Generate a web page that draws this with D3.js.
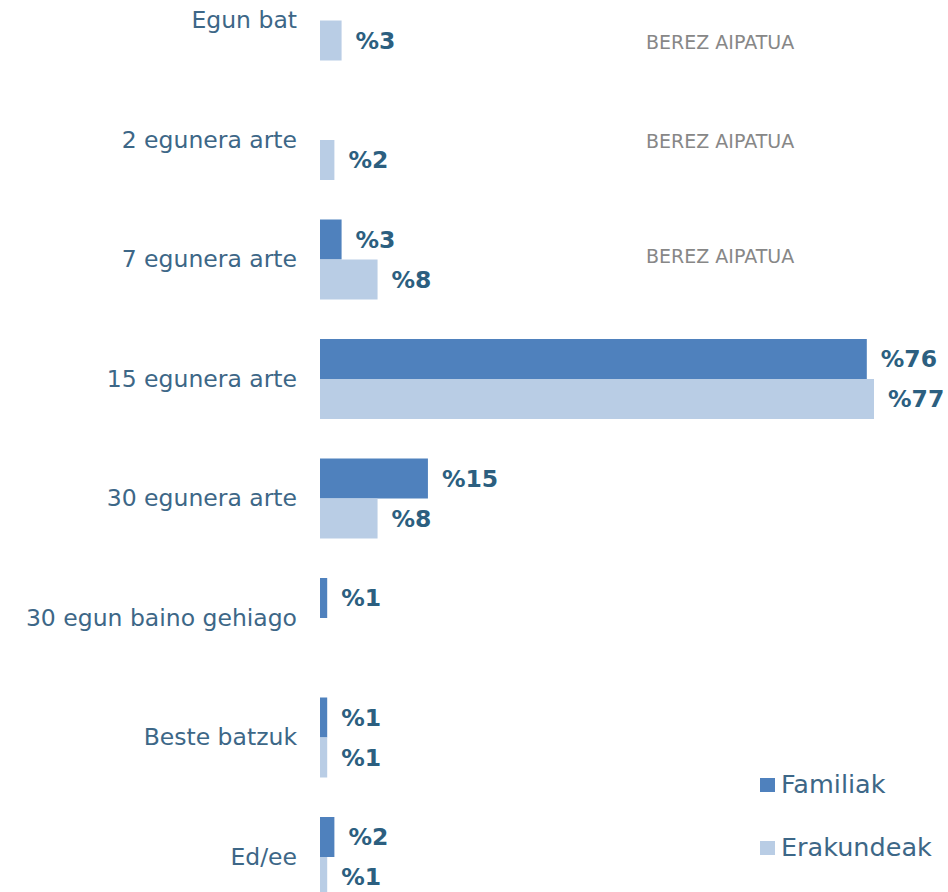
<!DOCTYPE html>
<html>
<head>
<meta charset="utf-8">
<script src="https://cdn.jsdelivr.net/npm/d3@7/dist/d3.min.js"></script>
<style>
  html, body { margin: 0; padding: 0; background: #ffffff; overflow: hidden; }
  svg { display: block; font-family: "Century Gothic", "DejaVu Sans", sans-serif; }
</style>
</head>
<body>
<svg id="chart" width="948" height="892"></svg>
<script>
// Erantzun-epeak: Familiak vs Erakundeak (%)
const categories = [
  "Egun bat",
  "2 egunera arte",
  "7 egunera arte",
  "15 egunera arte",
  "30 egunera arte",
  "30 egun baino gehiago",
  "Beste batzuk",
  "Ed/ee"
];
const seriesNames = ["Familiak", "Erakundeak"];
const familiak    = [null, null, 3, 76, 15, 1, 1, 2];
const erakundeak  = [3, 2, 8, 77, 8, null, 1, 1];
const notedCategories = ["Egun bat", "2 egunera arte", "7 egunera arte"];
const noteText = "BEREZ AIPATUA";

const colors = { Familiak: "#4f81bd", Erakundeak: "#b9cde5" };
const labelColor = "#2c5f80";
const catColor = "#3d6787";

const svg = d3.select("#chart");

const x = d3.scaleLinear().domain([0, 77]).range([320, 874]);
const y = d3.scaleBand().domain(categories)
  .range([20.5 - 119.5 / 2, 20.5 + 119.5 * (categories.length - 0.5)])
  .paddingInner(0).paddingOuter(0);
const barH = 40;
const sub = d3.scaleBand().domain(seriesNames).range([-barH, barH]);

const center = c => y(c) + y.bandwidth() / 2;

const rows = [];
categories.forEach((c, i) => {
  [["Familiak", familiak[i]], ["Erakundeak", erakundeak[i]]].forEach(([s, v]) => {
    if (v !== null) rows.push({ c, s, v });
  });
});

const g = svg.append("g");

g.selectAll("rect.bar").data(rows).join("rect")
  .attr("class", "bar")
  .attr("x", x(0))
  .attr("y", d => center(d.c) + sub(d.s))
  .attr("width", d => x(d.v) - x(0))
  .attr("height", sub.bandwidth())
  .attr("fill", d => colors[d.s]);

g.selectAll("text.val").data(rows).join("text")
  .attr("class", "val")
  .attr("x", d => x(d.v) + 14)
  .attr("y", d => center(d.c) + sub(d.s) + sub.bandwidth() / 2)
  .attr("dy", "0.36em")
  .attr("fill", labelColor)
  .attr("font-size", 23.5)
  .attr("font-weight", "bold")
  .text(d => "%" + d.v);

// Category axis (labels only)
const axis = d3.axisLeft(y).tickSize(0).tickPadding(0);
const ax = svg.append("g").attr("transform", "translate(297,0)").call(axis);
ax.select(".domain").remove();
ax.selectAll("text")
  .attr("fill", catColor)
  .attr("font-size", 23.5)
  .attr("font-family", "\"Century Gothic\", \"DejaVu Sans\", sans-serif");

// Notes for categories answered spontaneously
const noteOffset = { "Egun bat": 22, "2 egunera arte": 1, "7 egunera arte": -3 };
svg.selectAll("text.note").data(notedCategories).join("text")
  .attr("class", "note")
  .attr("x", 646)
  .attr("y", d => center(d) + noteOffset[d])
  .attr("dy", "0.36em")
  .attr("fill", "#878787")
  .attr("font-size", 19)
  .text(noteText);

// Legend
const legend = svg.append("g");
const ly = d3.scalePoint().domain(seriesNames).range([784, 847]);
legend.selectAll("rect").data(seriesNames).join("rect")
  .attr("x", 760).attr("y", d => ly(d) - 6)
  .attr("width", 15).attr("height", 14)
  .attr("fill", d => colors[d]);
legend.selectAll("text").data(seriesNames).join("text")
  .attr("x", 781).attr("y", d => ly(d))
  .attr("dy", "0.36em")
  .attr("fill", catColor)
  .attr("font-size", 25.5)
  .text(d => d);
</script>
</body>
</html>
